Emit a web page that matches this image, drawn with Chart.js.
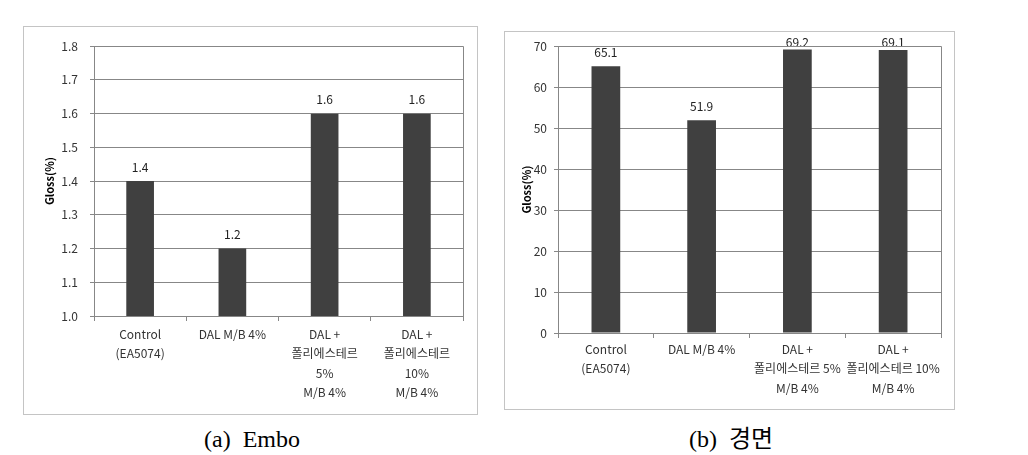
<!DOCTYPE html>
<html>
<head>
<meta charset="utf-8">
<script src="https://cdn.jsdelivr.net/npm/chart.js@4/dist/chart.umd.min.js"></script>
<style>
  body { margin: 0; width: 1028px; height: 455px; background: #fff; position: relative; overflow: hidden; }
  .box { position: absolute; border: 1px solid #c4c4c4; box-sizing: border-box; }
  .box canvas { display: block; }
  .cap { position: absolute; top: 424px; height: 30px; line-height: 30px; font-size: 24px; font-family: 'Liberation Serif', 'Noto Sans CJK KR', serif; white-space: pre; color: #000; transform: translateX(-50%); }
</style>
</head>
<body>
<div class="box" style="left:23px; top:26px; width:455px; height:389px;">
  <canvas id="emboChart" width="453" height="387"></canvas>
</div>
<div class="box" style="left:504px; top:31px; width:451px; height:379px;">
  <canvas id="mirrorChart" width="449" height="377"></canvas>
</div>
<div class="cap" style="left:252px;">(a)  Embo</div>
<div class="cap" style="left:731px;">(b)  경면</div>

<script>
'use strict';

// x categories (multi-line labels)
var emboLabels = [['Control', '(EA5074)'], ['DAL M/B 4%'], ['DAL +', '폴리에스테르', '5%', 'M/B 4%'], ['DAL +', '폴리에스테르', '10%', 'M/B 4%']];
var mirrorLabels = [['Control', '(EA5074)'], ['DAL M/B 4%'], ['DAL +', '폴리에스테르 5%', 'M/B 4%'], ['DAL +', '폴리에스테르 10%', 'M/B 4%']];

// gloss values
var emboValues = [1.4, 1.2, 1.6, 1.6];
var mirrorValues = [65.1, 51.9, 69.2, 69.1];

// y axis ranges
var emboAxis = { min: 1.0, max: 1.8, step: 0.1 };
var mirrorAxis = { min: 0, max: 70, step: 10 };

var FONT = "'Noto Sans CJK KR', 'Noto Sans', sans-serif";
var GRID = '#878787';

// value labels above bars, kept inside the frame near the top
var valueLabels = {
  id: 'valueLabels',
  afterDatasetsDraw: function (chart, args, opts) {
    var ctx = chart.ctx;
    var area = chart.chartArea;
    ctx.save();
    ctx.font = '12px ' + FONT;
    ctx.fillStyle = '#222';
    ctx.textAlign = 'center';
    ctx.textBaseline = 'middle';
    chart.getDatasetMeta(0).data.forEach(function (bar, i) {
      var v = chart.data.datasets[0].data[i];
      var y = Math.max(bar.y - 14, area.top - 4);
      ctx.fillText(v.toFixed(1), bar.x, y);
    });
    ctx.restore();
  }
};

// top and right border of plot area
var plotFrame = {
  id: 'plotFrame',
  afterDraw: function (chart) {
    var ctx = chart.ctx;
    var a = chart.chartArea;
    ctx.save();
    ctx.strokeStyle = GRID;
    ctx.lineWidth = 1;
    ctx.beginPath();
    ctx.moveTo(Math.round(a.left) + 0.5, Math.round(a.top) + 0.5);
    ctx.lineTo(Math.round(a.right) + 0.5, Math.round(a.top) + 0.5);
    ctx.lineTo(Math.round(a.right) + 0.5, Math.round(a.bottom) + 0.5);
    ctx.stroke();
    ctx.restore();
  }
};

function makeChart(id, labels, values, axis, cfg) {
  return new Chart(document.getElementById(id).getContext('2d'), {
    type: 'bar',
    data: {
      labels: labels,
      datasets: [{
        data: values,
        backgroundColor: '#404040',
        barPercentage: 0.3,
        categoryPercentage: 1
      }]
    },
    options: {
      responsive: false,
      animation: false,
      devicePixelRatio: 1,
      layout: { padding: cfg.padding },
      plugins: {
        legend: { display: false },
        tooltip: { enabled: false }
      },
      scales: {
        x: {
          grid: { drawOnChartArea: false, color: GRID, tickLength: 5, offset: true },
          border: { color: GRID },
          ticks: { color: '#333', font: { family: FONT, size: 12, lineHeight: 1.6 }, padding: cfg.xPad, maxRotation: 0, autoSkip: false },
          afterFit: function (s) { s.height = cfg.xHeight; }
        },
        y: {
          min: axis.min,
          max: axis.max,
          grid: { color: GRID, tickLength: 4 },
          border: { color: GRID },
          ticks: {
            stepSize: axis.step,
            color: '#333',
            padding: cfg.yPad,
            font: { family: FONT, size: 12 },
            callback: function (v) { return v.toFixed(cfg.digits); }
          },
          title: {
            display: true,
            text: 'Gloss(%)',
            color: '#000',
            font: { family: FONT, size: 11, weight: 'bold' },
            padding: { top: cfg.titlePad, bottom: 0 }
          },
          afterFit: function (s) { s.width = cfg.yWidth; }
        }
      }
    },
    plugins: [valueLabels, plotFrame]
  });
}

makeChart('emboChart', emboLabels, emboValues, emboAxis, {
  padding: { top: 15, right: 14, left: 0, bottom: 0 },
  xHeight: 98, yWidth: 70, xPad: 4, yPad: 12, titlePad: 19, digits: 1
});

makeChart('mirrorChart', mirrorLabels, mirrorValues, mirrorAxis, {
  padding: { top: 14, right: 13, left: 0, bottom: 0 },
  xHeight: 76, yWidth: 53, xPad: 2, yPad: 7, titlePad: 15, digits: 0
});
</script>
</body>
</html>
